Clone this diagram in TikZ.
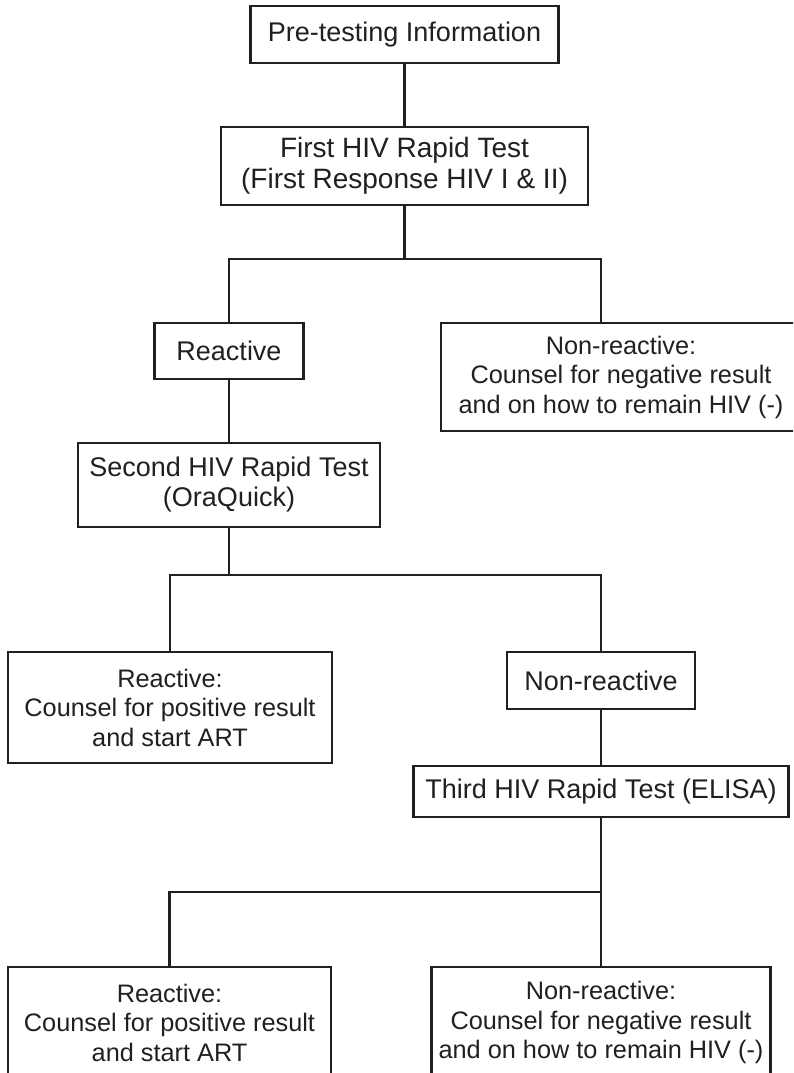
\documentclass[tikz,border=0pt]{standalone}
\usepackage{fontspec}
\setmainfont{Liberation Sans}
\definecolor{ink}{HTML}{231F20}
\newcommand{\fsz}[2]{\fontsize{#1}{#2}\selectfont}
\begin{document}
\begin{tikzpicture}[x=1pt,y=-1pt,
  box/.style={draw=ink, text=ink, line width=2.6pt, inner sep=0pt,
    align=center, rectangle},
  link/.style={draw=ink, line width=2.6pt},
  big/.style={font=\fsz{27}{30}},
  small/.style={font=\fsz{25.3}{29.5}}]
\useasboundingbox (0,0) rectangle (793,1073);
\clip (0,0) rectangle (793,1073);
\fill[white] (0,0) rectangle (793,1073);

% boxes
\node[box,big,minimum width=308pt,minimum height=57pt] (pre) at (404.5,34.5) {Pre-testing Information};
\node[box,font=\fsz{28}{30.5},minimum width=367pt,minimum height=78pt] (first) at (404.5,166)
  {First HIV Rapid Test\\(First Response HIV I \& II)};
\node[box,big,minimum width=149pt,minimum height=56pt] (reac1) at (229,351) {Reactive};
\node[box,small,minimum width=360pt,minimum height=108pt] (nonreac1) at (621,377)
  {Non-reactive:\\Counsel for negative result\\and on how to remain HIV (-)};
\node[box,big,minimum width=302pt,minimum height=84pt] (second) at (229,485)
  {Second HIV Rapid Test\\(OraQuick)};
\node[box,small,minimum width=324pt,minimum height=111pt] (pos2) at (170,707.5)
  {Reactive:\\Counsel for positive result\\and start ART};
\node[box,big,minimum width=188pt,minimum height=57pt] (nonreac2) at (601,680.5) {Non-reactive};
\node[box,big,minimum width=375pt,minimum height=51pt] (third) at (601,791.5)
  {Third HIV Rapid Test (ELISA)};
\node[box,small,minimum width=323pt,minimum height=111pt] (pos3) at (169.5,1022.5)
  {Reactive:\\Counsel for positive result\\and start ART};
\node[box,small,minimum width=339pt,minimum height=111pt] (neg3) at (601,1022.5)
  {Non-reactive:\\Counsel for negative result\\and on how to remain HIV (-)};

% junctions of the branch lines
\coordinate (j1) at (404.5,259);
\coordinate (nr1in) at (601,323);
\coordinate (j2) at (229,575);
\coordinate (j3) at (601,892);

% connectors
\draw[link] (pre.south) -- (first.north);
\draw[link] (first.south) -- (j1);
\draw[link] (reac1.north) |- (j1) -| (nr1in);
\draw[link] (reac1.south) -- (second.north);
\draw[link] (second.south) -- (j2);
\draw[link] (pos2.north) |- (j2) -| (nonreac2.north);
\draw[link] (nonreac2.south) -- (third.north);
\draw[link] (third.south) -- (neg3.north);
\draw[link] (pos3.north) |- (j3);
\end{tikzpicture}
\end{document}
